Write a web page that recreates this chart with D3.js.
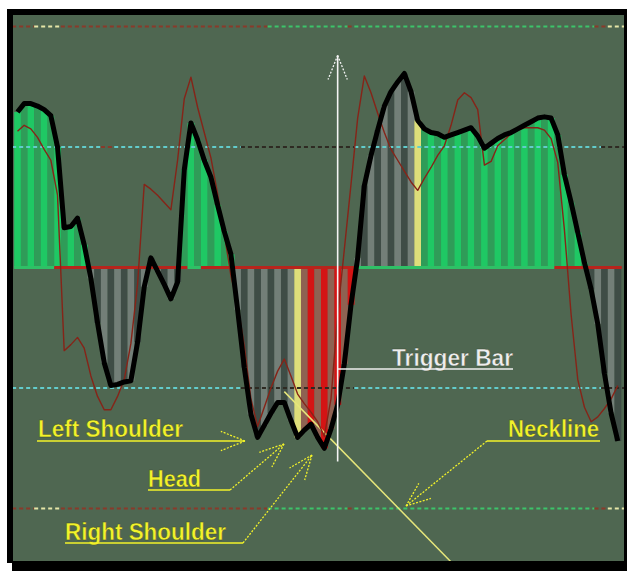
<!DOCTYPE html>
<html><head><meta charset="utf-8">
<script src="https://cdn.jsdelivr.net/npm/d3@7/dist/d3.min.js"></script>
<style>html,body{margin:0;padding:0;background:#fff;}svg{display:block;}</style>
</head><body>
<svg id="chart" width="627" height="571"></svg>
<script>
// ---- data (Woodies CCI style) ----
const cciValues = [129,136,136,134,131,126,100,33,34,41,19,-9,-46,-79,-98,-97,-95,-94,-62,-16,
  8,-3,-14,-26,-12,81,120,106,89,75,52,30,11,-35,-83,-122,-141,-131,-121,-112,
  -112,-127,-141,-135,-130,-141,-150,-134,-114,-80,-31,8,68,93,114,134,146,154,161,146,
  122,115,112,111,108,110,112,114,116,109,99,103,107,110,112,115,118,121,124,125,
  124,110,77,54,29,4,-18,-47,-88,-121,-144];
const tcciValues = [113,118,115,108,98,89,60,-69,-64,-58,-67,-90,-107,-118,-118,-107,-93,-63,-14,69,
  65,60,54,48,89,140,158,133,112,91,61,28,-7,-31,-65,-109,-132,-116,-100,-86,
  -76,-90,-105,-113,-120,-128,-140,-109,-39,15,69,124,159,145,128,112,98,89,80,71,
  64,74,83,93,101,118,139,145,141,131,85,88,101,106,111,114,116,116,116,114,
  107,87,31,-39,-93,-116,-128,-124,-117,-109,-98];
const barTypes = [].concat(
  Array(11).fill('green'), Array(14).fill('gray'), Array(8).fill('green'),
  Array(9).fill('gray'), ['yellow'], Array(8).fill('red'), Array(9).fill('gray'),
  ['yellow'], Array(25).fill('green'), Array(5).fill('gray'));
const levelValues = [200, 100, -100, -200];
const zeroLineRuns = [[-0.5,5.5,'green'],[5.5,25.5,'red'],[25.5,27.5,'green'],[27.5,50.5,'red'],[50.5,80.5,'green'],[80.5,90.6,'red']];
const levelRuns = {
  '200':  [[-0.8,2.5,'brown'],[2.5,6.5,'pale'],[6.5,37.5,'brown'],[37.5,49.5,'green'],[49.5,50.5,'brown'],[50.5,86.5,'green'],[86.5,88.5,'brown'],[88.5,91,'pale']],
  '100':  [[-0.8,12.5,'cyan'],[12.5,14.5,'brown'],[14.5,33.5,'cyan'],[33.5,50.5,'dark'],[50.5,87.5,'cyan'],[87.5,91,'dark']],
  '-100': [[-0.8,33.5,'cyan'],[33.5,50.5,'dark'],[50.5,87.5,'cyan'],[87.5,91,'dark']],
  '-200': [[-0.8,2.5,'brown'],[2.5,6.5,'pale'],[6.5,37.5,'brown'],[37.5,49.5,'green'],[49.5,50.5,'brown'],[50.5,86.5,'green'],[86.5,88.5,'brown'],[88.5,91,'pale']]
};
const triggerBar = 48;
const necklinePoints = [[40,-103],[66,-250]];

// ---- styles ----
const barPalette = {green:['#1fc864','#2f9c58'], gray:['#3f4d46','#737f78'], red:['#d41414','#8e6252'], yellow:['#dede7a','#b8b870']};
const levelColors = {brown:'#8a3a2a', pale:'#e6e6a8', green:'#3cc46a', cyan:'#62cccc', dark:'#2e2a22'};
const zeroColors = {green:'#2fc066', red:'#b8241c'};
const bg = '#4f6751';
const yellowText = '#f2f22a';

const svg = d3.select('#chart');
svg.append('rect').attr('x',0).attr('y',0).attr('width',627).attr('height',571).attr('fill','#fff');
svg.append('rect').attr('x',7).attr('y',9).attr('width',620).attr('height',554).attr('fill','#000');
svg.append('rect').attr('x',12).attr('y',15).attr('width',615).attr('height',556).attr('fill','#000');
const plot = {x:13, y:15, w:611, h:546};
svg.append('rect').attr('x',plot.x).attr('y',plot.y).attr('width',plot.w).attr('height',plot.h).attr('fill',bg);
svg.append('clipPath').attr('id','clip').append('rect')
  .attr('x',plot.x).attr('y',plot.y).attr('width',plot.w).attr('height',plot.h);
const g = svg.append('g').attr('clip-path','url(#clip)');

const step = 6.67;
const x = d3.scaleLinear().domain([0, 90]).range([17.5, 17.5 + 90*step]);
const y = d3.scaleLinear().domain([-200, 200]).range([508.5, 26.5]);

// bars
g.selectAll('rect.bar').data(cciValues).join('rect').attr('class','bar')
  .attr('x',(d,i)=>x(i)-step/2)
  .attr('width',step+0.2)
  .attr('y',d=>Math.min(y(d),y(0)))
  .attr('height',d=>Math.abs(y(d)-y(0)))
  .attr('fill',(d,i)=>barPalette[barTypes[i]][i%2]);

// level lines
levelValues.forEach(lv=>{
  levelRuns[String(lv)].forEach(r=>{
    g.append('line').attr('x1',x(r[0])).attr('x2',x(r[1]))
      .attr('y1',y(lv)).attr('y2',y(lv))
      .attr('stroke',levelColors[r[2]]).attr('stroke-width',2)
      .attr('stroke-dasharray','4,3');
  });
});
// zero line
zeroLineRuns.forEach(r=>{
  g.append('line').attr('x1',x(r[0])).attr('x2',x(r[1]))
    .attr('y1',y(0)).attr('y2',y(0))
    .attr('stroke',zeroColors[r[2]]).attr('stroke-width',3);
});

// neckline
g.append('line').attr('x1',x(necklinePoints[0][0])).attr('y1',y(necklinePoints[0][1]))
  .attr('x2',x(necklinePoints[1][0])).attr('y2',y(necklinePoints[1][1]))
  .attr('stroke','#e6e67a').attr('stroke-width',1.5);

const line = d3.line().x((d,i)=>x(i)).y(d=>y(d));
g.append('path').datum(tcciValues).attr('d',line).attr('fill','none')
  .attr('stroke','#862418').attr('stroke-width',1.4).attr('stroke-linejoin','round');
g.append('path').datum(cciValues).attr('d',line).attr('fill','none')
  .attr('stroke','#000').attr('stroke-width',5).attr('stroke-linejoin','round');

// ---- annotations ----
const ann = svg.append('g');
function arrowHead(tx,ty,fx,fy,color){
  const a = Math.atan2(ty-fy, tx-fx), L = 26, s = 0.38;
  [a+s, a-s].forEach(b=>{
    ann.append('line').attr('x1',tx).attr('y1',ty)
      .attr('x2',tx-L*Math.cos(b)).attr('y2',ty-L*Math.sin(b))
      .attr('stroke',color).attr('stroke-width',1.3).attr('stroke-dasharray','2,1.5');
  });
}
function label(txt,lx,ly,len,color){
  ann.append('text').attr('x',lx).attr('y',ly).text(txt)
    .attr('font-family','Liberation Sans, Arial, sans-serif').attr('font-weight','bold')
    .attr('font-size',24).attr('fill',color)
    .attr('stroke','#3a4a30').attr('stroke-width',0.4)
    .attr('textLength',len).attr('lengthAdjust','spacingAndGlyphs');
}
function seg(x1,y1,x2,y2,color,dash,w){
  const l = ann.append('line').attr('x1',x1).attr('y1',y1).attr('x2',x2).attr('y2',y2)
    .attr('stroke',color).attr('stroke-width',w||1.5);
  if(dash) l.attr('stroke-dasharray',dash);
}

// trigger arrow
const tx = x(triggerBar);
seg(tx, y(-161), tx, y(176), '#f4f4f4', null, 1.6);
arrowHead(tx, y(176), tx, y(0), '#f4f4f4');
label('Trigger Bar', 392, 366, 121, '#eeeeee');
seg(tx, 369, 513, 369, '#eeeeee', null, 1.6);

// Left Shoulder
label('Left Shoulder', 38, 437, 145, yellowText);
seg(37, 441, 245, 441, yellowText);
arrowHead(245, 441, 200, 441, yellowText);
// Head
label('Head', 148, 487, 53, yellowText);
seg(148, 490, 230, 490, yellowText);
seg(230, 490, 284, 444, yellowText, '2,1.5', 1.3);
arrowHead(284, 444, 230, 490, yellowText);
// Right Shoulder
label('Right Shoulder', 65, 540, 161, yellowText);
seg(65, 543, 243, 543, yellowText);
seg(243, 543, 312, 455, yellowText, '2,1.5', 1.3);
arrowHead(312, 455, 243, 543, yellowText);
// Neckline
label('Neckline', 508, 437, 91, yellowText);
seg(487, 441, 600, 441, yellowText);
seg(487, 441, 406, 506, yellowText, '2,1.5', 1.3);
arrowHead(406, 506, 487, 441, yellowText);
</script>
</body></html>
